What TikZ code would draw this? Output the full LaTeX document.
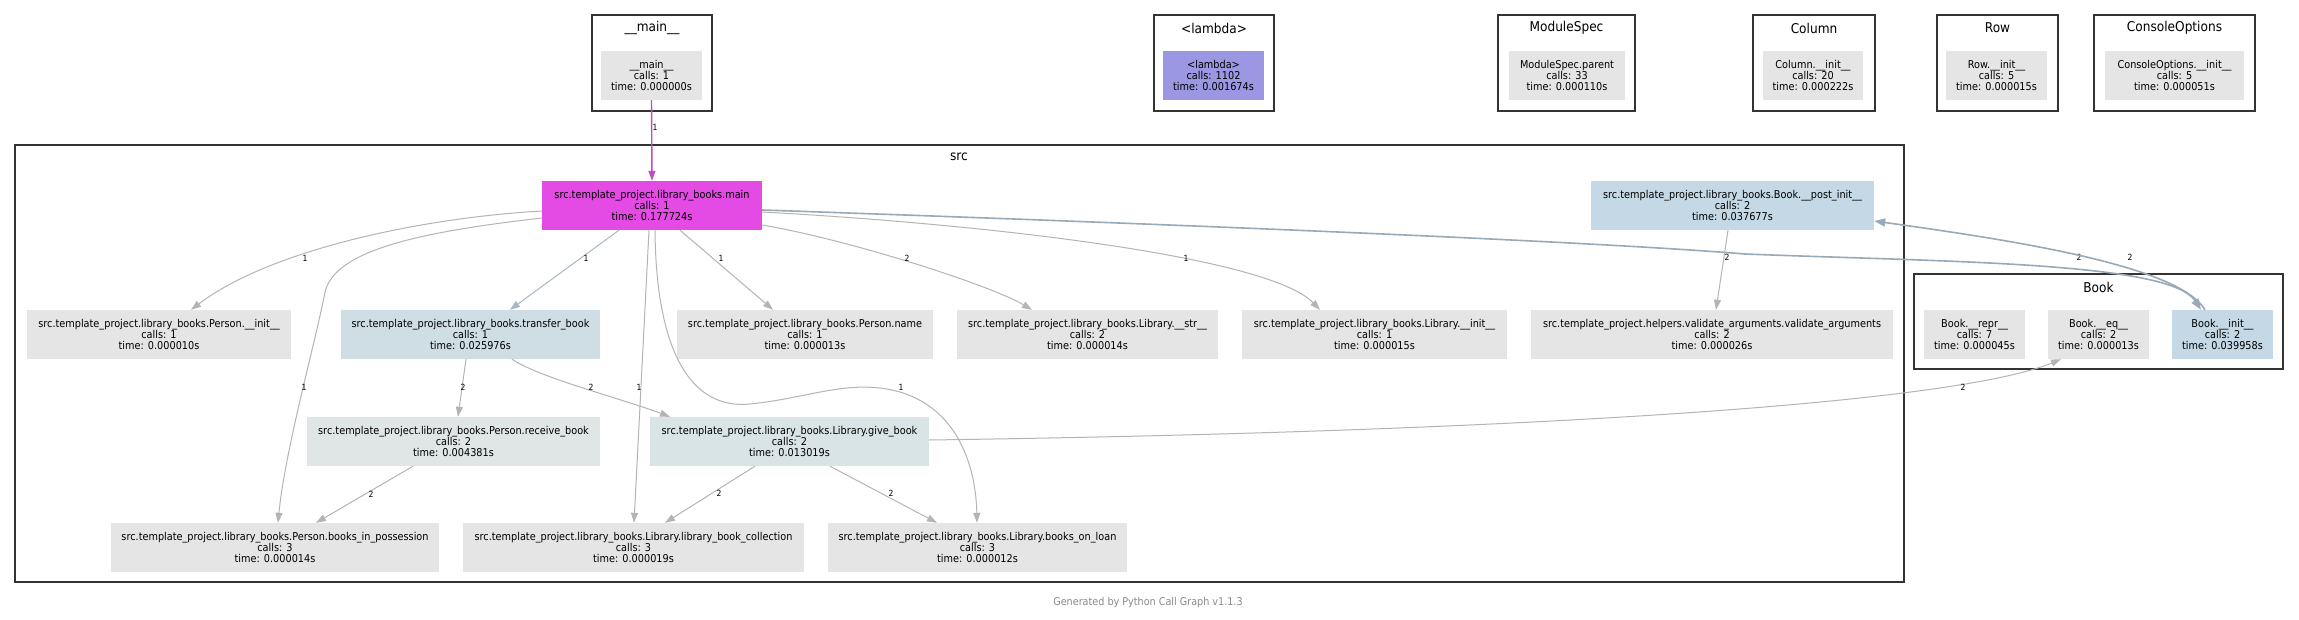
\documentclass[tikz,border=0pt]{standalone}
\usepackage{fontspec}
\newfontfamily\gvfont{DejaVu Sans}[FakeStretch=0.9]
\usetikzlibrary{arrows.meta}
\definecolor{ngray}{HTML}{E5E5E5}
\definecolor{nmagenta}{HTML}{E44AE4}
\definecolor{nlav}{HTML}{9B97E3}
\definecolor{nblue}{HTML}{C4D8E5}
\definecolor{ntransfer}{HTML}{CFDEE5}
\definecolor{nreceive}{HTML}{E0E5E6}
\definecolor{ngive}{HTML}{D9E4E7}
\definecolor{clborder}{HTML}{333333}
\definecolor{egray}{HTML}{B4B4B4}
\definecolor{eblue}{HTML}{98A9B8}
\definecolor{eblue2}{HTML}{AAB8C2}
\definecolor{emag}{HTML}{C24BC2}
\definecolor{footgray}{HTML}{8A8A8A}
\newcommand\gvnodefont{\gvfont\fontsize{10.8}{10.8}\selectfont}
\newcommand\gvtitlefont{\gvfont\fontsize{13.5}{13.5}\selectfont}
\newcommand\gvlabfont{\gvfont\fontsize{8.5}{8.5}\selectfont}
\newcommand\gvfootfont{\gvfont\fontsize{10.7}{10.7}\selectfont}
\tikzset{
  fn/.style={inner sep=0pt, minimum height=49pt, align=center, font=\gvnodefont, text=black},
  clusterbox/.style={draw=clborder, line width=2.5pt, fill=white, inner sep=0pt},
  ctitle/.style={font=\gvtitlefont, inner sep=0pt, text=black},
  callarrow/.style={draw=egray, line width=1pt, -{Triangle[length=10pt,width=7pt]}},
  lab/.style={font=\gvlabfont, inner sep=0pt, text=black},
}
\begin{document}
\begin{tikzpicture}[x=1pt,y=-1pt]
\useasboundingbox (0,0) rectangle (2299,620);
\fill[white] (0,0) rectangle (2299,620);

% clusters
\node[clusterbox, minimum width=120pt, minimum height=96pt] (cmain) at (652,63) {};
\node[ctitle] (tmain) at (652,28) {\_\_main\_\_};
\node[clusterbox, minimum width=120pt, minimum height=96pt] (clambda) at (1214,63) {};
\node[ctitle] (tlambda) at (1214,28) {<lambda>};
\node[clusterbox, minimum width=137pt, minimum height=96pt] (cmod) at (1566.5,63) {};
\node[ctitle] (tmod) at (1566.5,28) {ModuleSpec};
\node[clusterbox, minimum width=122pt, minimum height=96pt] (ccol) at (1814,63) {};
\node[ctitle] (tcol) at (1814,28) {Column};
\node[clusterbox, minimum width=121pt, minimum height=96pt] (crow) at (1997.5,63) {};
\node[ctitle] (trow) at (1997.5,28) {Row};
\node[clusterbox, minimum width=161pt, minimum height=96pt] (ccons) at (2174.5,63) {};
\node[ctitle] (tcons) at (2174.5,28) {ConsoleOptions};
\node[clusterbox, minimum width=1889pt, minimum height=437pt] (csrc) at (959.5,363.5) {};
\node[ctitle] (tsrc) at (959,157) {src};
\node[clusterbox, minimum width=369pt, minimum height=95pt] (cbook) at (2098.5,321.5) {};
\node[ctitle] (tbook) at (2098.5,287) {Book};

% top nodes
\node[fn, fill=ngray, minimum width=101pt] (mainmain) at (651.5,75.5) {\_\_main\_\_\\calls: 1\\time: 0.000000s};
\node[fn, fill=nlav, minimum width=101pt] (lambda) at (1213.5,75.5) {<lambda>\\calls: 1102\\time: 0.001674s};
\node[fn, fill=ngray, minimum width=116pt] (modspec) at (1567,75.5) {ModuleSpec.parent\\calls: 33\\time: 0.000110s};
\node[fn, fill=ngray, minimum width=100pt] (column) at (1813,75.5) {Column.\_\_init\_\_\\calls: 20\\time: 0.000222s};
\node[fn, fill=ngray, minimum width=101pt] (row) at (1996.5,75.5) {Row.\_\_init\_\_\\calls: 5\\time: 0.000015s};
\node[fn, fill=ngray, minimum width=139pt] (cons) at (2174.5,75.5) {ConsoleOptions.\_\_init\_\_\\calls: 5\\time: 0.000051s};

% src nodes
\node[fn, fill=nmagenta, minimum width=220pt] (main) at (652,205.5) {src.template\_project.library\_books.main\\calls: 1\\time: 0.177724s};
\node[fn, fill=nblue, minimum width=283pt] (postinit) at (1732.5,205.5) {src.template\_project.library\_books.Book.\_\_post\_init\_\_\\calls: 2\\time: 0.037677s};

\node[fn, fill=ngray, minimum width=264pt] (pinit) at (159,334.5) {src.template\_project.library\_books.Person.\_\_init\_\_\\calls: 1\\time: 0.000010s};
\node[fn, fill=ntransfer, minimum width=259pt] (transfer) at (470.5,334.5) {src.template\_project.library\_books.transfer\_book\\calls: 1\\time: 0.025976s};
\node[fn, fill=ngray, minimum width=256pt] (pname) at (805,334.5) {src.template\_project.library\_books.Person.name\\calls: 1\\time: 0.000013s};
\node[fn, fill=ngray, minimum width=261pt] (libstr) at (1087.5,334.5) {src.template\_project.library\_books.Library.\_\_str\_\_\\calls: 2\\time: 0.000014s};
\node[fn, fill=ngray, minimum width=265pt] (libinit) at (1374.5,334.5) {src.template\_project.library\_books.Library.\_\_init\_\_\\calls: 1\\time: 0.000015s};
\node[fn, fill=ngray, minimum width=362pt] (validate) at (1712,334.5) {src.template\_project.helpers.validate\_arguments.validate\_arguments\\calls: 2\\time: 0.000026s};

\node[fn, fill=nreceive, minimum width=293pt] (receive) at (453.5,441.5) {src.template\_project.library\_books.Person.receive\_book\\calls: 2\\time: 0.004381s};
\node[fn, fill=ngive, minimum width=279pt] (give) at (789.5,441.5) {src.template\_project.library\_books.Library.give\_book\\calls: 2\\time: 0.013019s};

\node[fn, fill=ngray, minimum width=328pt] (possess) at (275,547.5) {src.template\_project.library\_books.Person.books\_in\_possession\\calls: 3\\time: 0.000014s};
\node[fn, fill=ngray, minimum width=341pt] (collection) at (633.5,547.5) {src.template\_project.library\_books.Library.library\_book\_collection\\calls: 3\\time: 0.000019s};
\node[fn, fill=ngray, minimum width=299pt] (loan) at (977.5,547.5) {src.template\_project.library\_books.Library.books\_on\_loan\\calls: 3\\time: 0.000012s};

% Book nodes
\node[fn, fill=ngray, minimum width=101pt] (brepr) at (1974.5,334.5) {Book.\_\_repr\_\_\\calls: 7\\time: 0.000045s};
\node[fn, fill=ngray, minimum width=101pt] (beq) at (2098.5,334.5) {Book.\_\_eq\_\_\\calls: 2\\time: 0.000013s};
\node[fn, fill=nblue, minimum width=101pt] (binit) at (2222.5,334.5) {Book.\_\_init\_\_\\calls: 2\\time: 0.039958s};

% edges
\draw[callarrow, draw=emag, line width=1.4pt, -{Triangle[length=10pt,width=7pt,fill=emag]}] (mainmain.south) -- (main.north) node[lab, at={(655,127)}] {1};

\draw[callarrow] ([yshift=-5.5pt]main.west) .. controls (420,218) and (270,250) .. ([xshift=32pt]pinit.north) node[lab, at={(305,258)}] {1};
\draw[callarrow] ([yshift=-12.5pt]main.west) .. controls (420,232) and (335,250) .. (325,292) .. controls (316,340) and (285,450) .. ([xshift=3pt]possess.north) node[lab, at={(304,387)}] {1};
\draw[callarrow, draw=eblue2] ([xshift=-33pt]main.south) -- ([xshift=39.5pt]transfer.north) node[lab, at={(586,258)}] {1};
\draw[callarrow] ([xshift=-3pt]main.south) -- ([xshift=0.5pt]collection.north) node[lab, at={(639,387)}] {1};
\draw[callarrow] ([xshift=3pt]main.south) .. controls (656,350) and (690,410) .. (750,404) .. controls (810,398) and (850,378) .. (900,392) .. controls (960,410) and (976,470) .. ([xshift=-0.5pt]loan.north) node[lab, at={(901,387)}] {1};
\draw[callarrow] ([xshift=28pt]main.south) -- ([xshift=-32pt]pname.north) node[lab, at={(721,258)}] {1};
\draw[callarrow] ([yshift=-19.5pt]main.east) .. controls (850,240) and (990,285) .. ([xshift=-55.5pt]libstr.north) node[lab, at={(907,258)}] {2};
\draw[callarrow] ([yshift=-6.5pt]main.east) .. controls (1000,225) and (1270,258) .. ([xshift=-54.5pt]libinit.north) node[lab, at={(1186,258)}] {1};
\draw[callarrow, draw=eblue, line width=1.6pt, -{Triangle[length=11pt,width=8pt]}] ([yshift=-4.5pt]main.east) .. controls (1200,225) and (1600,242) .. (1745,254) .. controls (1950,262) and (2170,262) .. ([xshift=-21.5pt]binit.north) node[lab, at={(2079,257)}] {2};
\draw[callarrow, draw=eblue, line width=1.6pt, -{Triangle[length=11pt,width=8pt]}] ([xshift=-17.5pt]binit.north) .. controls (2178,265) and (2010,240) .. ([yshift=-15.5pt]postinit.east) node[lab, at={(2130,257)}] {2};
\draw[callarrow] ([xshift=-4.5pt]postinit.south) -- ([xshift=4pt]validate.north) node[lab, at={(1727,257)}] {2};

\draw[callarrow] ([xshift=-4.5pt]transfer.south) -- ([xshift=4.5pt]receive.north) node[lab, at={(463,387)}] {2};
\draw[callarrow] ([xshift=41.5pt]transfer.south) .. controls (540,378) and (620,398) .. ([xshift=-119.5pt]give.north) node[lab, at={(591,387)}] {2};

\draw[callarrow] ([xshift=-40.5pt]receive.south) -- ([xshift=41pt]possess.north) node[lab, at={(371,494)}] {2};
\draw[callarrow] ([xshift=-34.5pt]give.south) -- ([xshift=31.5pt]collection.north) node[lab, at={(719,493)}] {2};
\draw[callarrow] ([xshift=40.5pt]give.south) -- ([xshift=-40.5pt]loan.north) node[lab, at={(891,493)}] {2};
\draw[callarrow] ([yshift=1.5pt]give.east) .. controls (1500,432) and (1950,405) .. ([xshift=-37.5pt]beq.south) node[lab, at={(1963,387)}] {2};

\node[font=\gvfootfont, text=footgray, inner sep=0pt] (footer) at (1148,603) {Generated by Python Call Graph v1.1.3};
\end{tikzpicture}
\end{document}
